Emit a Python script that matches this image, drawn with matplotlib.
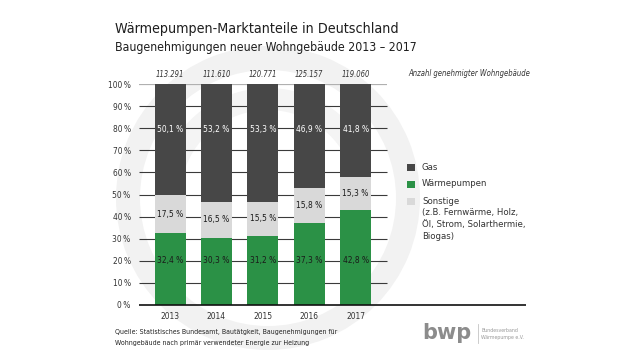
import matplotlib
matplotlib.use("Agg")
import matplotlib.pyplot as plt
from matplotlib.patches import Wedge, Rectangle
import numpy as np

years = ["2013", "2014", "2015", "2016", "2017"]
counts = ["113.291", "111.610", "120.771", "125.157", "119.060"]
waermepumpen = [32.4, 30.3, 31.2, 37.3, 42.8]
sonstige = [17.5, 16.5, 15.5, 15.8, 15.3]
gas = [50.1, 53.2, 53.3, 46.9, 41.8]
yticks = [0, 10, 20, 30, 40, 50, 60, 70, 80, 90, 100]

C_GAS = "#474747"
C_WP = "#2b9146"
C_SON = "#d9d9d9"

plt.rcParams['font.family'] = ["DejaVu Sans"]
plt.rcParams['font.stretch'] = "condensed"

W, H = 640, 360
fig = plt.figure(figsize=(6.4, 3.6), dpi=100)
fig.patch.set_facecolor("white")

# background watermark swirl
bg = fig.add_axes([0, 0, 1, 1], zorder=-5)
bg.set_xlim(0, W); bg.set_ylim(H, 0); bg.axis("off")
bg.add_patch(Wedge((268, 198), 152, 0, 360, width=24, facecolor="#f2f2f2", edgecolor="none"))
bg.add_patch(Wedge((268, 198), 110, 200, 330, width=22, facecolor="#f4f4f4", edgecolor="none"))

ax = fig.add_axes([139 / W, 1 - 305 / H, (532 - 139) / W, (305 - 84) / H])
ax.patch.set_alpha(0)
x = np.arange(len(years))
bw = 0.668
wp = np.array(waermepumpen); so = np.array(sonstige); ga = np.array(gas)
ax.bar(x, wp, bw, color=C_WP, zorder=3)
ax.bar(x, so, bw, bottom=wp, color=C_SON, zorder=3)
ax.bar(x, ga, bw, bottom=wp + so, color=C_GAS, zorder=3)

ax.set_xlim(-0.668, 7.80)
ax.set_ylim(0, 100)
x0, xg, xz = -0.668, 4.676, 7.67
ax.hlines(yticks[1:-1], x0, xg, color="#3a3a3a", lw=0.8, zorder=1)
ax.hlines([100], x0, xg, color="#b0b0b0", lw=1.6, zorder=1)
ax.hlines([0], x0, xz, color="#111111", lw=1.2, zorder=4, clip_on=False)
for s in ax.spines.values():
    s.set_visible(False)
ax.set_yticks(yticks)
ax.set_yticklabels([f"{t}\u2009%" for t in yticks], fontsize=6, color="#333333")
ax.tick_params(axis="y", length=0, pad=6)
ax.set_xticks(x)
ax.set_xticklabels(years, fontsize=6, color="#333333")
ax.tick_params(axis="x", length=0, pad=5)

def fmt(v):
    return f"{v:.1f}".replace(".", ",") + " %"

for i in range(len(years)):
    ax.text(x[i], 79.5, fmt(ga[i]), ha="center", va="center", color="white", fontsize=6, zorder=5)
    ax.text(x[i], 20, fmt(wp[i]), ha="center", va="center", color="#1a1a1a", fontsize=6, zorder=5)
    ax.text(x[i], wp[i] + so[i] / 2, fmt(so[i]), ha="center", va="center", color="#1a1a1a", fontsize=6, zorder=5)
    ax.text(x[i], 104.5, counts[i], ha="center", va="center", color="#333333", fontsize=5.5, style="italic", clip_on=False)
bg.text(408, 73, "Anzahl genehmigter Wohngebäude", ha="left", va="center", color="#333333",
        fontsize=5.5, style="italic")

# titles
bg.text(115, 29, "Wärmepumpen-Marktanteile in Deutschland", fontsize=10.3, color="#1e1e1e", va="center", ha="left")
bg.text(115, 48, "Baugenehmigungen neuer Wohngebäude 2013 – 2017", fontsize=8.8, color="#1e1e1e", va="center", ha="left")

# legend
leg = [("Gas", C_GAS, 167), ("Wärmepumpen", C_WP, 184), ("Sonstige", C_SON, 201)]
for lab, col, yy in leg:
    bg.add_patch(Rectangle((407, yy - 3.5), 7.5, 7, facecolor=col, edgecolor="none"))
    bg.text(422, yy, lab, fontsize=6.8, color="#333333", va="center", ha="left")
for k, line in enumerate(["(z.B. Fernwärme, Holz,", "Öl, Strom, Solarthermie,", "Biogas)"]):
    bg.text(422, 212.5 + 12 * k, line, fontsize=6.8, color="#333333", va="center", ha="left")

# source
bg.text(115, 332, "Quelle: Statistisches Bundesamt, Bautätgkeit, Baugenehmigungen für", fontsize=5, color="#222222", va="center")
bg.text(115, 342.5, "Wohngebäude nach primär verwendeter Energie zur Heizung", fontsize=5, color="#222222", va="center")

# logo
bg.text(447, 333, "bwp", fontsize=15, fontweight="bold", color="#8c8c8c", va="center", ha="center",
        fontstretch="normal")
bg.plot([478, 478], [324, 343], color="#c4c4c4", lw=0.6)
bg.text(481, 330, "Bundesverband", fontsize=3.8, color="#999999", va="center")
bg.text(481, 338, "Wärmepumpe e.V.", fontsize=3.8, color="#999999", va="center")

fig.savefig("out.png", dpi=100, facecolor="white")
